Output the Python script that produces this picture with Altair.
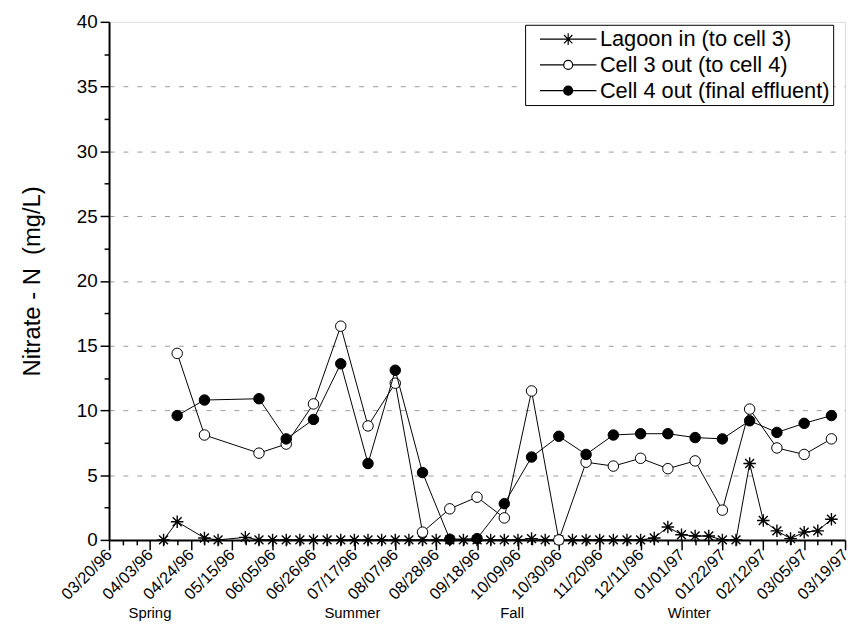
import altair as alt
import pandas as pd

# ---------------- data ----------------
# x positions: days along the sampling axis (labelled ticks every 21 days)
tick_days = [0, 21, 42, 63, 84, 105, 126, 147, 168, 189, 210, 231, 252, 273, 294,
             315, 336, 357, 378]
x_labels = ["03/20/96", "04/03/96", "04/24/96", "05/15/96", "06/05/96", "06/26/96",
            "07/17/96", "08/07/96", "08/28/96", "09/18/96", "10/09/96", "10/30/96",
            "11/20/96", "12/11/96", "01/01/97", "01/22/97", "02/12/97", "03/05/97",
            "03/19/97"]
season_names = ["Spring", "Summer", "Fall", "Winter"]
season_days = [21, 125, 207, 298]

series_names = ["Lagoon in (to cell 3)", "Cell 3 out (to cell 4)", "Cell 4 out (final effluent)"]

lagoon_days = [28, 35, 49, 56, 70, 77, 84, 91, 98, 105, 112, 119, 126, 133, 140, 147,
               154, 161, 168, 175, 182, 189, 196, 203, 210, 217, 224, 231, 238, 245,
               252, 259, 266, 273, 280, 287, 294, 301, 308, 315, 322, 329, 336, 343,
               350, 357, 364, 371]
lagoon_vals = [0.0, 1.4, 0.15, 0.0, 0.2, 0.0, 0.0, 0.0, 0.0, 0.0, 0.0, 0.0, 0.0, 0.0,
               0.0, 0.0, 0.0, 0.0, 0.0, 0.0, 0.0, 0.0, 0.0, 0.0, 0.0, 0.1, 0.0, 0.0,
               0.0, 0.0, 0.0, 0.0, 0.0, 0.0, 0.15, 1.0, 0.4, 0.3, 0.3, 0.0, 0.0, 5.9,
               1.5, 0.7, 0.1, 0.6, 0.7, 1.6]

cell_days = [35, 49, 77, 91, 105, 119, 133, 147, 161, 175, 189, 203, 217, 231, 245,
             259, 273, 287, 301, 315, 329, 343, 357, 371]
cell3_vals = [14.4, 8.1, 6.7, 7.4, 10.5, 16.5, 8.8, 12.1, 0.6, 2.4, 3.3, 1.7, 11.5, 0.0,
              6.0, 5.7, 6.3, 5.5, 6.1, 2.3, 10.1, 7.1, 6.6, 7.8]
cell4_vals = [9.6, 10.8, 10.9, 7.8, 9.3, 13.6, 5.9, 13.1, 5.2, 0.05, 0.1, 2.8, 6.4, 8.0,
              6.6, 8.1, 8.2, 8.2, 7.9, 7.8, 9.2, 8.3, 9.0, 9.6]

lagoon_df = pd.DataFrame({"day": lagoon_days, "value": lagoon_vals})
cell3_df = pd.DataFrame({"day": cell_days, "value": cell3_vals})
cell4_df = pd.DataFrame({"day": cell_days, "value": cell4_vals})
legend_df = pd.DataFrame({"series": series_names, "day": [0, 0, 0], "value": [0, 0, 0]})
season_df = pd.DataFrame({"season": season_names, "day": season_days})

# ---------------- style ----------------
W, H = 743, 523
FONT = "Liberation Sans"
ASTER = "M-1,0L1,0M0,-1L0,1M-0.71,-0.71L0.71,0.71M-0.71,0.71L0.71,-0.71"
LEG_ASTER = "M-5.7,0L5.7,0M0,-1.2L0,1.2M-0.85,-0.85L0.85,0.85M-0.85,0.85L0.85,-0.85"
LEG_CIRC = "M-5.7,0L-0.9,0M0.9,0L5.7,0M-0.9,0A0.9,0.9 0 1,1 0.9,0A0.9,0.9 0 1,1 -0.9,0Z"

tick_arr = "[" + ",".join(str(d) for d in tick_days) + "]"
label_arr = "[" + ",".join("'" + s + "'" for s in x_labels) + "]"
is_major = "indexof(" + tick_arr + ", datum.value) >= 0"

x_scale = alt.Scale(domain=[0, 378], nice=False, zero=False)
y_scale = alt.Scale(domain=[0, 40], nice=False)

x_axis = alt.Axis(
    values=list(range(0, 379, 7)),
    labelExpr=is_major + " ? " + label_arr + "[indexof(" + tick_arr + ", datum.value)] : ''",
    labelAngle=315, labelAlign="right", labelBaseline="middle",
    labelFont=FONT, labelFontSize=16.5, labelColor="black", labelPadding=2,
    labelOverlap=False, labelFlush=False,
    tickSize={"condition": {"test": is_major, "value": 10}, "value": 5},
    tickColor="black", tickWidth=1.5,
    domainColor="black", domainWidth=2, grid=False, title=None,
)
y_axis = alt.Axis(
    values=[i * 2.5 for i in range(17)],
    labelExpr="datum.value % 5 === 0 ? datum.label : ''",
    labelFont=FONT, labelFontSize=19, labelColor="black", labelPadding=3,
    tickSize={"condition": {"test": "datum.value % 5 === 0", "value": 9}, "value": 5},
    tickColor="black", tickWidth=1.5,
    domainColor="black", domainWidth=2,
    grid=True, gridColor="#9a9a9a", gridDash=[5, 9], gridWidth=1,
    gridOpacity={"condition": {"test": "datum.value % 5 === 0 && datum.value > 0 && datum.value < 40",
                               "value": 1}, "value": 0},
    title="Nitrate - N\u00a0 (mg/L)", titleFont=FONT, titleFontSize=24,
    titleFontWeight="normal", titleColor="black", titlePadding=32,
)

X = alt.X("day:Q", scale=x_scale, axis=x_axis)
Y = alt.Y("value:Q", scale=y_scale, axis=y_axis)


def series_layers(df, point_mark):
    line = alt.Chart(df).mark_line(color="black", strokeWidth=1).encode(x=X, y=Y)
    pts = alt.Chart(df).mark_point(**point_mark).encode(x=X, y=Y)
    return [line, pts]


layers = []
layers += series_layers(lagoon_df, dict(shape=ASTER, size=160, filled=False, stroke="black",
                                        strokeWidth=1.4, opacity=1))
layers += series_layers(cell3_df, dict(shape="circle", size=112, filled=True, fill="white",
                                       stroke="black", strokeWidth=1, opacity=1))
layers += series_layers(cell4_df, dict(shape="circle", size=112, filled=True, fill="black",
                                       stroke="black", strokeWidth=1, opacity=1))

leg = alt.Legend(title=None, orient="none", legendX=420, legendY=3,
                 symbolSize=100, symbolStrokeWidth=1.2, symbolOffset=29,
                 labelOffset=21, labelFont=FONT, labelFontSize=22, labelColor="black",
                 labelLimit=400, rowPadding=4, padding=3.5,
                 strokeColor="black", fillColor="white")

legend_layer = alt.Chart(legend_df).mark_point(opacity=1, stroke="black", strokeWidth=1.2).encode(
    x=X, y=Y,
    shape=alt.Shape("series:N", scale=alt.Scale(domain=series_names,
                                                range=[LEG_ASTER, LEG_CIRC, LEG_CIRC]), legend=leg),
    fill=alt.Fill("series:N", scale=alt.Scale(domain=series_names,
                                              range=["white", "white", "black"]), legend=leg),
).transform_filter("false")

season_layer = alt.Chart(season_df).mark_text(
    font=FONT, fontSize=15, color="black", baseline="middle", align="center"
).encode(x=X, y=alt.value(H + 74), text="season:N")

chart = alt.layer(*layers, legend_layer, season_layer).properties(
    width=W, height=H,
    autosize=alt.AutoSizeParams(type="none"),
    padding={"left": 102, "top": 11, "right": 6, "bottom": 90},
).configure_view(stroke=None).configure(background="white")

chart.save("out.html", embed_options={"renderer": "svg", "actions": False})
